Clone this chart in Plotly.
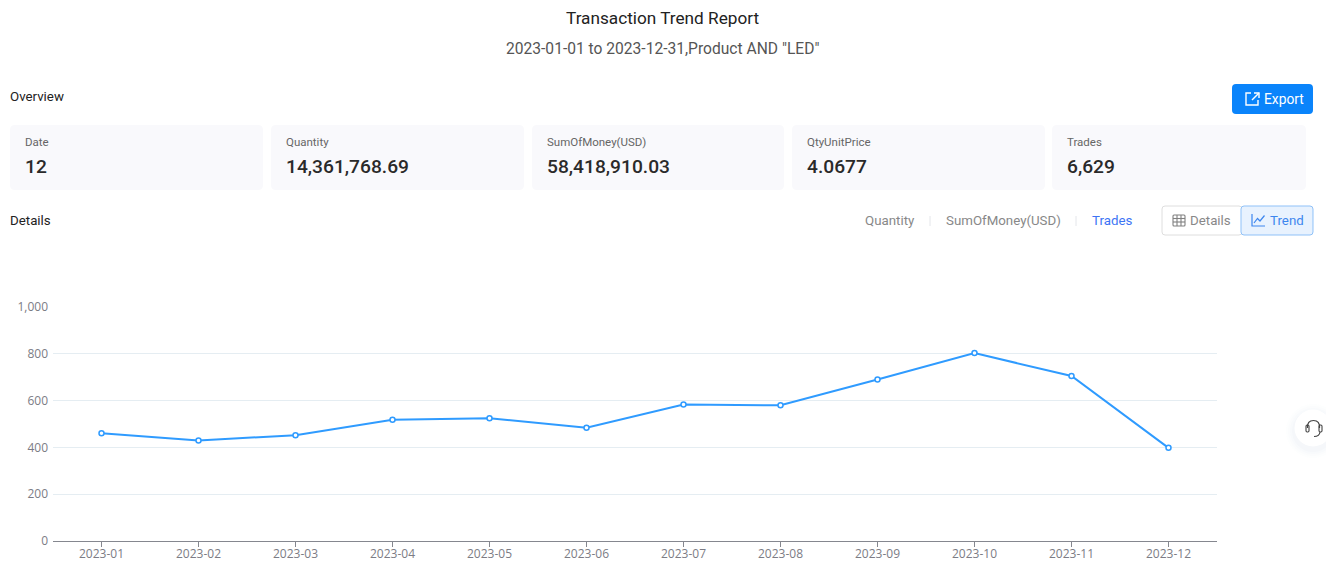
import plotly.graph_objects as go

months = ["2023-01", "2023-02", "2023-03", "2023-04", "2023-05", "2023-06",
          "2023-07", "2023-08", "2023-09", "2023-10", "2023-11", "2023-12"]
trades = [461, 430, 452, 518, 525, 484, 583, 580, 690, 803, 705, 398]
y_ticks = [0, 200, 400, 600, 800, 1000]

card_labels = ["Date", "Quantity", "SumOfMoney(USD)", "QtyUnitPrice", "Trades"]
card_values = ["12", "14,361,768.69", "58,418,910.03", "4.0677", "6,629"]
card_lefts = [10, 271, 532, 792, 1052]
card_rights = [263, 524, 784, 1045, 1306]

W, H = 1326, 570
L, R, T, B = 53, 1217, 307, 541


def px(x):
    return (x - L) / (R - L)


def py(y):
    return (B - y) / (B - T)


def P(x, y):
    return f"{px(x):.5f},{py(y):.5f}"


def rrect(x0, y0, x1, y1, r):
    return (f"M{P(x0 + r, y0)} L{P(x1 - r, y0)} Q{P(x1, y0)} {P(x1, y0 + r)} "
            f"L{P(x1, y1 - r)} Q{P(x1, y1)} {P(x1 - r, y1)} L{P(x0 + r, y1)} "
            f"Q{P(x0, y1)} {P(x0, y1 - r)} L{P(x0, y0 + r)} Q{P(x0, y0)} {P(x0 + r, y0)} Z")


def poly(points, close=False):
    s = "M" + " L".join(P(a, b) for a, b in points)
    return s + (" Z" if close else "")


shapes = []


def add_path(d, fill="rgba(0,0,0,0)", line=None, lw=1):
    shapes.append(dict(type="path", xref="paper", yref="paper", path=d, fillcolor=fill,
                       line=dict(color=line or "rgba(0,0,0,0)", width=lw if line else 0),
                       layer="below"))


annotations = []


def text(x, y, s, size, color, anchor="left", family="Roboto", weight=400):
    annotations.append(dict(xref="paper", yref="paper", x=px(x), y=py(y), text=s, showarrow=False,
                            xanchor=anchor, yanchor="middle", borderpad=0, borderwidth=0,
                            font=dict(size=size, color=color, family=family, weight=weight)))


# header
text(662, 18, "Transaction Trend Report", 17.2, "#222222", "center")
text(662, 48.5, '2023-01-01 to 2023-12-31,Product AND "LED"', 15.6, "#555555", "center")
text(10, 96.5, "Overview", 13.3, "#222222")
text(10, 220, "Details", 13.3, "#222222")

# summary cards
for x0, x1, lab, val in zip(card_lefts, card_rights, card_labels, card_values):
    add_path(rrect(x0, 125, x1, 190, 5), fill="#f9f9fc")
    text(x0 + 15, 142, lab, 11.5, "#666666")
    text(x0 + 15, 167, val, 19.2, "#2a2a2a", weight=500)

# export button
add_path(rrect(1232, 84, 1313, 114, 4), fill="#0a84fb")
text(1264, 99, "Export", 13.8, "#ffffff")
add_path(poly([(1251, 93), (1246, 93), (1246, 105), (1258, 105), (1258, 100)]), line="#ffffff", lw=1.4)
add_path(poly([(1254, 93), (1259, 93), (1259, 98)]), line="#ffffff", lw=1.4)
add_path(poly([(1259, 93), (1252, 100)]), line="#ffffff", lw=1.4)

# metric switch
text(890, 220.5, "Quantity", 13.3, "#888888", "center")
text(1003, 220.5, "SumOfMoney(USD)", 13.3, "#888888", "center")
text(1111.5, 220.5, "Trades", 13.3, "#3d74f5", "center")
for sep in (930, 1076):
    add_path(poly([(sep, 216), (sep, 226)]), line="#e4e6ea", lw=1)

# details/trend toggle
add_path(rrect(1162, 206, 1242, 235, 3), fill="#ffffff", line="#dedede", lw=1)
add_path(rrect(1241, 206, 1313, 235, 3), fill="#e8f2fe", line="#8fc1f8", lw=1)
text(1190, 220.5, "Details", 13.3, "#888888")
text(1270, 220.5, "Trend", 13.3, "#3d86ee")
add_path(rrect(1173, 215, 1185, 226, 1), line="#808080", lw=1.1)
add_path(poly([(1173, 218.5), (1185, 218.5)]), line="#808080", lw=1.1)
add_path(poly([(1173, 222), (1185, 222)]), line="#808080", lw=1.1)
add_path(poly([(1177, 215), (1177, 226)]), line="#808080", lw=1.1)
add_path(poly([(1181, 215), (1181, 226)]), line="#808080", lw=1.1)
add_path(poly([(1252, 214), (1252, 226), (1265, 226)]), line="#3d86ee", lw=1.2)
add_path(poly([(1254, 223), (1257.5, 218.5), (1260, 221), (1264.5, 215.5)]), line="#3d86ee", lw=1.2)

# floating help button
for r_, op in ((27, 0.012), (25, 0.016), (23, 0.02), (21, 0.025)):
    shapes.append(dict(type="circle", xref="paper", yref="paper", x0=px(1313 - r_), x1=px(1313 + r_),
                       y0=py(431 + r_), y1=py(431 - r_), fillcolor=f"rgba(120,140,190,{op})",
                       line=dict(width=0), layer="below"))
shapes.append(dict(type="circle", xref="paper", yref="paper", x0=px(1294.5), x1=px(1331.5),
                   y0=py(446.5), y1=py(409.5), fillcolor="#ffffff", line=dict(width=0), layer="below"))
add_path(f"M{P(1307.5, 428)} Q{P(1307, 420.5)} {P(1313.5, 420.5)} Q{P(1320, 420.5)} {P(1319.5, 428)}",
         line="#444444", lw=1.2)
add_path(rrect(1306, 425, 1309, 432, 1.2), line="#444444", lw=1.1)
add_path(rrect(1319, 425, 1322, 432, 1.2), line="#444444", lw=1.1)
add_path(f"M{P(1320, 432)} Q{P(1319.5, 436.5)} {P(1314, 436.5)}", line="#444444", lw=1.1)

fig = go.Figure(go.Scatter(
    x=months, y=trades, mode="lines+markers", cliponaxis=False,
    line=dict(color="#2f9bff", width=2),
    marker=dict(symbol="circle", size=5, color="#ffffff", line=dict(color="#2f9bff", width=1.5)),
    hoverinfo="x+y", showlegend=False))

fig.update_layout(
    width=W, height=H, autosize=False,
    margin=dict(l=L, r=W - R, t=T, b=H - B, pad=0, autoexpand=False),
    paper_bgcolor="#ffffff", plot_bgcolor="#ffffff",
    shapes=shapes, annotations=annotations,
    font=dict(family="Open Sans", size=12, color="#7c7c85"),
    xaxis=dict(type="category", categoryorder="array", categoryarray=months, range=[-0.5, 11.5],
               automargin=False, showgrid=False, zeroline=False, showline=True, linecolor="#85878f",
               linewidth=1, ticks="outside", ticklen=5, tickwidth=1, tickcolor="#85878f", tickangle=0,
               ticklabelstandoff=-3, tickfont=dict(size=12, color="#7c7c85", family="Open Sans")),
    yaxis=dict(range=[0, 1000], tickvals=y_ticks, tickformat=",", showgrid=True, gridcolor="#e5edf2",
               automargin=False, gridwidth=1.4, zeroline=False, showline=False, ticks="",
               ticklabelstandoff=4, tickfont=dict(size=12, color="#7c7c85", family="Open Sans")),
)

fig.write_html("out.html", config=dict(displayModeBar=False),
               post_script="document.body.style.margin='0';document.body.style.overflow='hidden';")
